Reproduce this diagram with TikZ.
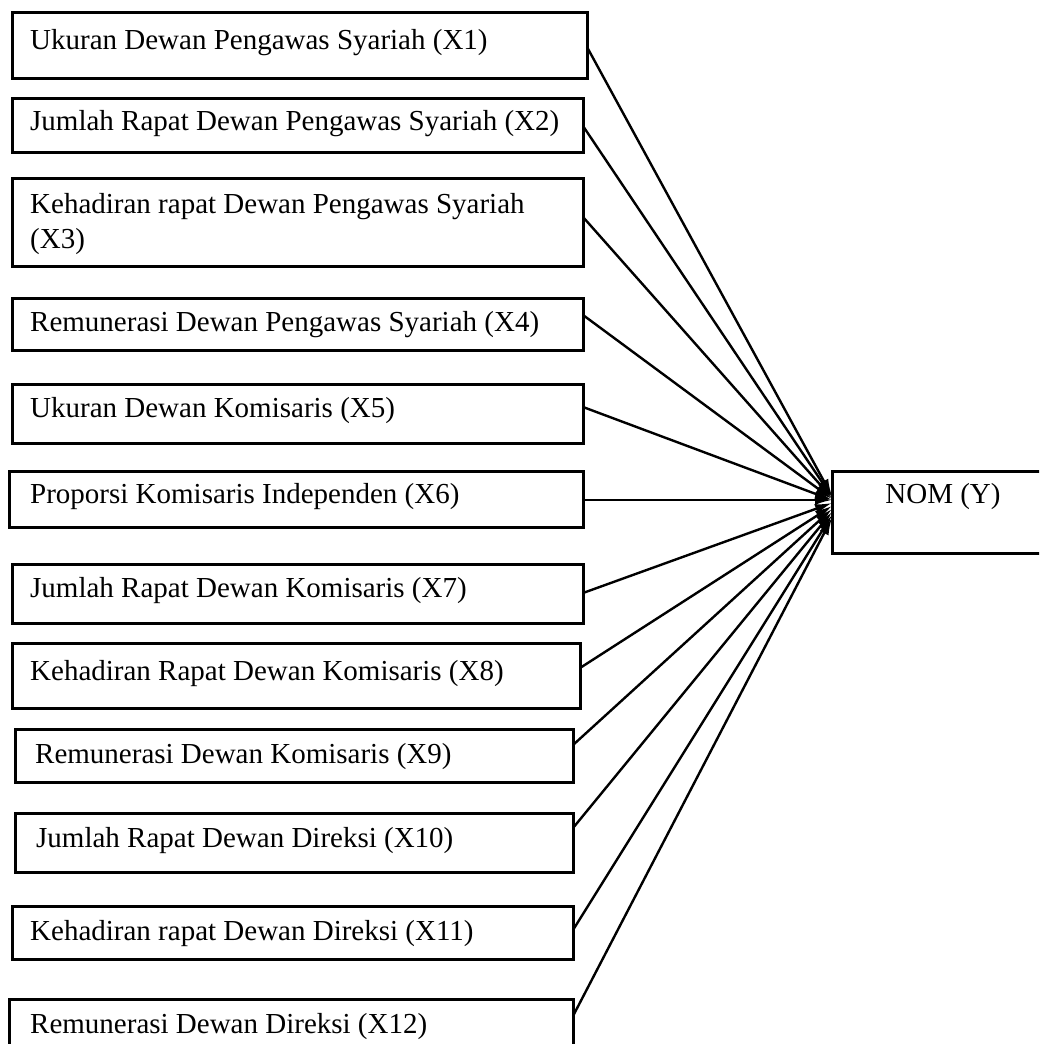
\documentclass[tikz,border=0pt]{standalone}
\usepackage{fontspec}
\setmainfont{Liberation Serif}
\usetikzlibrary{arrows.meta}
\begin{document}
\begin{tikzpicture}[x=1pt,y=-1pt,
  box/.style={draw=black,line width=3pt,rectangle,outer sep=0pt,inner sep=0pt,anchor=north west},
  lbl/.style={anchor=base west,inner sep=0pt,font=\fontsize{29}{35}\selectfont},
  conn/.style={draw=black,line width=2.4pt,-{Latex[length=17pt,width=10pt]}}]
\useasboundingbox (0,0) rectangle (1039,1044);
\clip (0,0) rectangle (1039,1044);
% boxes: left, top, width, height
\node[box,minimum width=575pt,minimum height=66pt] (b1) at (12,12) {};
\node[box,minimum width=571pt,minimum height=54pt] (b2) at (12,98) {};
\node[box,minimum width=571pt,minimum height=88pt] (b3) at (12,178) {};
\node[box,minimum width=571pt,minimum height=52pt] (b4) at (12,298) {};
\node[box,minimum width=571pt,minimum height=59pt] (b5) at (12,384) {};
\node[box,minimum width=574pt,minimum height=56pt] (b6) at (9,471) {};
\node[box,minimum width=571pt,minimum height=59pt] (b7) at (12,564) {};
\node[box,minimum width=568pt,minimum height=65pt] (b8) at (12,643) {};
\node[box,minimum width=558pt,minimum height=53pt] (b9) at (15,729) {};
\node[box,minimum width=558pt,minimum height=59pt] (b10) at (15,813) {};
\node[box,minimum width=561pt,minimum height=53pt] (b11) at (12,906) {};
\node[box,minimum width=564pt,minimum height=70pt] (b12) at (9,999) {};
\node[box,minimum width=240pt,minimum height=82pt] (nom) at (832,471) {};
% texts
\node[lbl] (t1) at (30,49) {Ukuran Dewan Pengawas Syariah (X1)};
\node[lbl] (t2) at (30,130) {Jumlah Rapat Dewan Pengawas Syariah (X2)};
\node[lbl] (t3) at (30,213) {Kehadiran rapat Dewan Pengawas Syariah};
\node[lbl] (t3b) at (30,248) {(X3)};
\node[lbl] (t4) at (30,331) {Remunerasi Dewan Pengawas Syariah (X4)};
\node[lbl] (t5) at (30,417) {Ukuran Dewan Komisaris (X5)};
\node[lbl] (t6) at (30,503) {Proporsi Komisaris Independen (X6)};
\node[lbl] (t7) at (30,597) {Jumlah Rapat Dewan Komisaris (X7)};
\node[lbl] (t8) at (30,680) {Kehadiran Rapat Dewan Komisaris (X8)};
\node[lbl] (t9) at (35,763) {Remunerasi Dewan Komisaris (X9)};
\node[lbl] (t10) at (36,847) {Jumlah Rapat Dewan Direksi (X10)};
\node[lbl] (t11) at (30,940) {Kehadiran rapat Dewan Direksi (X11)};
\node[lbl] (t12) at (30,1033) {Remunerasi Dewan Direksi (X12)};
\node[lbl,anchor=base] (tnom) at (943,503) {NOM (Y)};
% connectors
\draw[conn] (b1.east |- 0,47) -- ([yshift=16pt]nom.west);
\draw[conn] (b2.east |- 0,126) -- ([yshift=15pt]nom.west);
\draw[conn] (b3.east |- 0,217) -- ([yshift=14pt]nom.west);
\draw[conn] (b4.east |- 0,315) -- ([yshift=13pt]nom.west);
\draw[conn] (b5.east |- 0,407) -- ([yshift=12pt]nom.west);
\draw[conn] (b6.east |- 0,500) -- ([yshift=12pt]nom.west);
\draw[conn] (b7.east |- 0,593) -- ([yshift=9pt]nom.west);
\draw[conn] (b8.east |- 0,668) -- ([yshift=6pt]nom.west);
\draw[conn] (b9.east |- 0,745) -- ([yshift=3pt]nom.west);
\draw[conn] (b10.east |- 0,828) -- ([yshift=0pt]nom.west);
\draw[conn] (b11.east |- 0,930) -- ([yshift=-3pt]nom.west);
\draw[conn] (b12.east |- 0,1016) -- ([yshift=-6pt]nom.west);
\end{tikzpicture}
\end{document}
